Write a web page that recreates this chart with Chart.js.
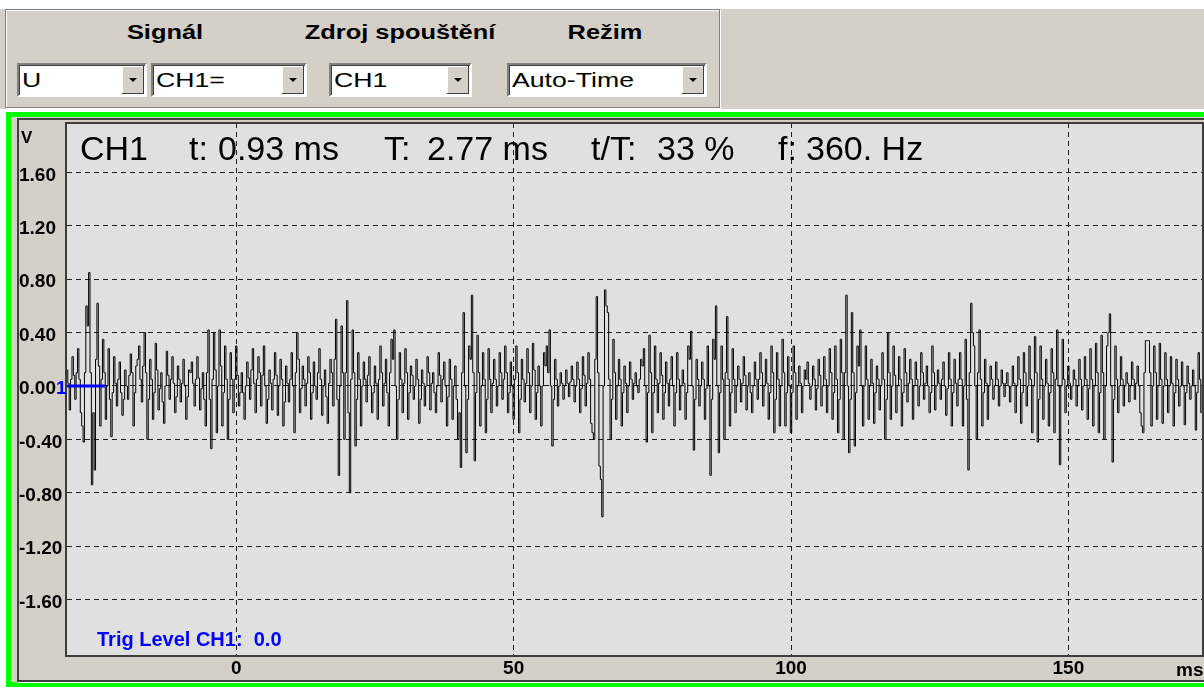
<!DOCTYPE html>
<html>
<head>
<meta charset="utf-8">
<script src="https://cdn.jsdelivr.net/npm/chart.js@4.4.1/dist/chart.umd.min.js"></script>
<style>
  html, body { margin: 0; overflow: hidden; }
  body { width: 1204px; height: 687px; background: #fff; position: relative;
         font-family: "Liberation Sans", Arial, sans-serif; }
  .abs { position: absolute; white-space: pre; }
  #toppanel { left: 0; top: 9px; width: 1204px; height: 100px; background: #d4d0c8; }
  #group { left: 5px; top: 9px; width: 713px; height: 97px; border: 1px solid #808080;
           box-shadow: 1px 1px 0 #fff, inset 1px 1px 0 #fff; }
  .caption { top: 22px; font-weight: bold; font-size: 20px; line-height: 20px; text-align: center; color: #000;
             transform: scaleX(1.27); transform-origin: center; }
  .combo { top: 63px; height: 30px; background: #fff; border-top: 2px solid #808080; border-left: 2px solid #808080;
           border-right: 2px solid #fff; border-bottom: 2px solid #fff; box-shadow: inset 1px 1px 0 #404040; }
  .combo span { position: absolute; left: 3px; top: 4px; font-size: 21px; line-height: 22px; color: #000;
                transform: scaleX(1.27); transform-origin: left; }
  .combo .btn { position: absolute; right: 1px; top: 1px; width: 22px; height: 28px; background: #d4d0c8;
                box-shadow: inset -1px -1px 0 #404040, inset 1px 1px 0 #fff; }
  .combo .btn::after { content: ""; position: absolute; left: 7px; top: 12px; border-left: 4px solid transparent;
                       border-right: 4px solid transparent; border-top: 4px solid #000; }
  #frame { left: 6px; top: 112px; width: 1198px; height: 565px; border-left: 5px solid #00ff00; border-top: 5px solid #00ff00;
           border-bottom: 5px solid #00ff00; background: #d4d0c8; }
  #inner { left: 17px; top: 118px; width: 1185px; height: 560px; border-top: 2px solid #404040; border-left: 2px solid #404040;
           border-bottom: 2px solid #404040; box-shadow: 0 1px 0 #fff; }
  #scope { position: absolute; left: 19px; top: 121px; }
  .header { top: 131px; font-size: 34px; line-height: 34px; color: #000; }
  .lbl { font-weight: bold; font-size: 19px; line-height: 19px; color: #000; }
  .blue { color: #0000ff; }
</style>
</head>
<body>
<div id="toppanel" class="abs"></div>
<div id="group" class="abs"></div>
<div class="abs caption" style="left:110px; width:110px;">Signál</div>
<div class="abs caption" style="left:300px; width:200px;">Zdroj spouštění</div>
<div class="abs caption" style="left:560px; width:90px;">Režim</div>
<div class="abs combo" style="left:17px; width:126px;"><span>U</span><div class="btn"></div></div>
<div class="abs combo" style="left:151px; width:152px;"><span>CH1=</span><div class="btn"></div></div>
<div class="abs combo" style="left:329px; width:139px;"><span>CH1</span><div class="btn"></div></div>
<div class="abs combo" style="left:507px; width:196px;"><span>Auto-Time</span><div class="btn"></div></div>

<div id="frame" class="abs"></div>
<div id="inner" class="abs"></div>
<canvas id="scope" width="1185" height="557"></canvas>

<div class="abs header" style="left:80px;">CH1</div>
<div class="abs header" style="left:189px;">t:</div>
<div class="abs header" style="left:218px;">0.93 ms</div>
<div class="abs header" style="left:384px;">T:</div>
<div class="abs header" style="left:427px;">2.77 ms</div>
<div class="abs header" style="left:591px;">t/T:</div>
<div class="abs header" style="left:657px;">33 %</div>
<div class="abs header" style="left:778px;">f:</div>
<div class="abs header" style="left:806px;">360. Hz</div>

<div class="abs lbl" style="left:21px; top:128px; font-size:17px;">V</div>
<div class="abs lbl blue" style="left:56px; top:378px;">1</div>
<div class="abs lbl" style="left:1176px; top:660px;">ms</div>
<div class="abs lbl blue" style="left:97px; top:629px; font-size:20px; line-height:20px;">Trig Level CH1:  0.0</div>

<script>
// time base of the capture (ms)
const tStart = -30.5
const tStep = 0.25

// CH1 samples in volts (one row = 5 ms)
const signalValues = [
  0.12, 0.02, -0.18, 0.05, 0.22, 0.08, -0.1, 0.1, 0.28, 0.05, -0.2, -0.3, -0.42, 0.1, 0.6, 0.45, 0.85, 0.1, -0.74, -0.2,
  -0.63, 0.2, 0.62, 0.15, -0.3, 0.05, 0.35, 0.1, -0.25, 0.0, 0.28, -0.1, -0.38, -0.05, 0.22, 0.02, -0.15, 0.05, 0.18, -0.05,
  -0.22, -0.1, 0.12, 0.0, -0.1, 0.08, 0.24, 0.1, -0.3, -0.05, 0.15, 0.2, 0.3, 0.05, -0.12, 0.15, 0.4, 0.1, -0.4, -0.1,
  0.2, 0.05, -0.25, -0.05, 0.32, 0.12, -0.18, -0.02, 0.1, -0.12, -0.28, 0.0, 0.26, 0.08, -0.1, 0.05, 0.22, 0.02, -0.2, -0.08,
  0.15, 0.05, -0.12, 0.02, 0.2, 0.0, -0.25, -0.08, 0.12, 0.1, 0.18, 0.02, -0.15, 0.05, 0.22, 0.06, -0.18, -0.02, 0.1, -0.1,
  -0.3, 0.1, 0.42, -0.1, -0.47, 0.05, 0.4, 0.12, -0.35, 0.0, 0.42, 0.15, -0.3, -0.05, 0.3, 0.05, -0.4, -0.1, 0.25, 0.05,
  -0.2, 0.05, 0.3, 0.08, -0.15, -0.05, 0.1, -0.05, -0.25, 0.0, 0.18, 0.06, -0.1, 0.12, 0.28, 0.02, -0.2, 0.05, 0.22, 0.1,
  -0.15, 0.08, 0.3, 0.0, -0.28, -0.1, 0.12, 0.02, -0.18, 0.05, 0.25, 0.08, -0.22, 0.0, 0.2, 0.05, -0.3, -0.12, 0.15, 0.02,
  -0.12, 0.05, 0.25, 0.0, -0.35, 0.1, 0.4, 0.2, -0.2, -0.02, 0.15, 0.05, -0.15, 0.02, 0.22, 0.1, -0.25, -0.05, 0.18, 0.0,
  -0.1, 0.1, 0.28, 0.05, -0.22, 0.0, 0.12, -0.08, -0.28, 0.02, 0.2, 0.1, -0.15, 0.2, 0.5, -0.1, -0.67, 0.0, 0.45, 0.1,
  -0.4, 0.1, 0.64, -0.2, -0.8, 0.05, 0.42, 0.1, -0.45, -0.1, 0.25, 0.05, -0.3, 0.0, 0.18, 0.05, -0.12, 0.08, 0.22, 0.0,
  -0.2, -0.05, 0.15, 0.02, -0.25, 0.05, 0.3, 0.1, -0.15, 0.02, 0.2, -0.05, -0.3, 0.1, 0.35, 0.2, 0.42, 0.0, -0.4, -0.1,
  0.25, 0.05, -0.2, 0.02, 0.28, 0.1, -0.25, -0.05, 0.15, 0.08, -0.1, 0.0, 0.2, 0.05, -0.28, -0.1, 0.12, 0.02, -0.15, 0.0,
  0.22, 0.1, -0.18, 0.02, 0.1, -0.05, -0.2, 0.0, 0.25, 0.08, -0.12, 0.05, 0.18, 0.0, -0.3, -0.08, 0.2, 0.05, -0.25, 0.0,
  0.15, -0.1, -0.4, -0.2, -0.61, 0.1, 0.55, 0.0, -0.5, -0.1, 0.3, 0.2, 0.68, 0.1, -0.56, -0.05, 0.38, 0.1, -0.3, 0.0,
  0.25, 0.05, -0.35, -0.1, 0.28, 0.05, -0.2, 0.02, 0.2, 0.05, -0.15, 0.0, 0.25, 0.1, -0.1, 0.05, 0.3, 0.1, -0.2, -0.05,
  0.18, 0.0, -0.25, 0.05, 0.3, 0.1, -0.35, -0.1, 0.2, 0.05, -0.12, 0.02, 0.28, 0.1, -0.2, 0.0, 0.32, 0.12, -0.25, -0.05,
  0.15, 0.0, -0.3, 0.0, 0.25, 0.15, 0.3, 0.1, 0.42, 0.0, -0.45, -0.1, 0.2, 0.05, -0.15, 0.0, 0.1, 0.02, -0.1, 0.0,
  0.12, 0.02, -0.08, 0.03, 0.15, 0.05, -0.12, 0.0, 0.18, 0.05, -0.2, -0.02, 0.22, 0.08, -0.15, 0.02, 0.25, 0.05, -0.28, -0.35,
  -0.4, 0.2, 0.67, 0.1, -0.6, -0.7, -0.98, 0.0, 0.72, 0.6, 0.55, 0.05, -0.4, -0.1, 0.35, 0.1, -0.25, 0.0, 0.2, 0.05,
  -0.3, -0.05, 0.15, 0.02, -0.2, 0.0, 0.18, 0.05, -0.1, 0.02, 0.1, 0.0, -0.05, 0.05, 0.2, 0.15, 0.28, 0.0, -0.42, -0.05,
  0.38, 0.1, -0.35, -0.05, 0.3, 0.05, -0.2, 0.02, 0.25, 0.08, -0.25, -0.05, 0.18, 0.02, -0.15, 0.05, 0.22, 0.0, -0.3, -0.05,
  0.25, 0.05, -0.18, 0.0, 0.12, 0.02, -0.25, -0.05, 0.3, 0.2, 0.41, 0.0, -0.48, -0.1, 0.2, 0.05, -0.15, 0.0, 0.18, 0.05,
  -0.25, -0.02, 0.3, 0.0, -0.67, -0.1, 0.35, 0.2, 0.6, 0.0, -0.5, -0.05, 0.3, 0.05, -0.4, 0.1, 0.52, 0.05, -0.3, -0.05,
  0.28, 0.05, -0.2, 0.0, 0.15, 0.05, -0.12, 0.02, 0.22, 0.08, -0.18, 0.0, 0.1, -0.05, -0.2, 0.0, 0.18, 0.05, -0.1, 0.05,
  0.25, 0.1, -0.15, 0.0, 0.2, 0.02, -0.25, -0.05, 0.3, 0.1, -0.35, -0.1, 0.25, 0.05, -0.3, 0.0, 0.35, 0.1, -0.3, -0.05,
  0.22, 0.0, -0.35, -0.05, 0.3, 0.1, -0.25, 0.0, 0.15, 0.02, -0.2, 0.0, 0.12, 0.05, 0.18, 0.02, -0.1, 0.0, 0.15, 0.05,
  -0.18, -0.02, 0.2, 0.08, -0.15, 0.0, 0.22, 0.05, -0.2, 0.0, 0.28, 0.1, -0.25, -0.05, 0.3, 0.05, -0.35, -0.1, 0.35, 0.1,
  -0.4, 0.1, 0.68, 0.0, -0.5, -0.1, 0.55, 0.1, -0.45, -0.05, 0.3, 0.15, 0.42, 0.0, -0.3, 0.0, 0.3, 0.05, -0.25, 0.0,
  0.2, 0.02, -0.28, -0.05, 0.15, 0.05, -0.18, 0.0, 0.25, 0.05, -0.4, -0.1, 0.4, 0.1, -0.25, 0.0, 0.3, 0.08, -0.2, 0.0,
  0.22, 0.05, -0.3, -0.05, 0.28, 0.1, -0.12, 0.02, 0.2, 0.05, -0.25, 0.0, 0.18, 0.05, -0.15, 0.0, 0.25, 0.1, -0.1, 0.02,
  0.15, 0.0, -0.2, -0.05, 0.3, 0.1, -0.18, 0.0, 0.12, 0.02, -0.1, 0.05, 0.18, 0.0, -0.22, -0.02, 0.25, 0.05, -0.3, -0.05,
  0.2, 0.02, -0.15, 0.05, 0.25, 0.05, -0.3, 0.0, 0.35, -0.1, -0.63, 0.1, 0.62, 0.4, 0.3, 0.0, -0.4, 0.1, 0.42, 0.05,
  -0.3, -0.05, 0.2, 0.02, -0.25, 0.0, 0.15, 0.05, -0.1, 0.0, 0.18, 0.05, -0.15, 0.0, 0.12, 0.02, -0.08, 0.02, 0.1, 0.0,
  -0.12, 0.0, 0.15, 0.02, -0.2, 0.0, 0.22, 0.05, -0.28, -0.05, 0.25, 0.1, -0.15, 0.0, 0.3, 0.05, -0.35, 0.0, 0.37, 0.1,
  -0.42, -0.1, 0.3, 0.05, -0.25, 0.0, 0.2, 0.02, -0.3, -0.05, 0.28, 0.1, -0.35, 0.05, 0.42, 0.0, -0.59, 0.0, 0.35, 0.05,
  -0.2, 0.0, 0.15, 0.02, -0.1, 0.0, 0.12, 0.05, -0.15, 0.0, 0.2, 0.05, -0.18, 0.0, 0.22, 0.05, -0.25, -0.02, 0.28, 0.05,
  -0.3, 0.0, 0.32, 0.1, -0.35, -0.05, 0.38, 0.1, -0.4, 0.0, 0.3, 0.4, 0.54, 0.0, -0.57, -0.1, 0.3, 0.05, -0.2, 0.0,
  0.22, 0.05, -0.15, 0.0, 0.1, 0.02, -0.12, 0.0, 0.18, 0.05, -0.1, 0.02, 0.15, 0.0, -0.2, -0.3, -0.35, 0.1, 0.34, 0.34,
  0.34, 0.1, -0.3, 0.0, 0.3, 0.1, -0.25, 0.0, 0.32, 0.05, -0.28, 0.0, 0.25, 0.05, -0.2, 0.0, 0.22, 0.02, -0.3, -0.05,
  0.2, 0.05, -0.15, 0.0, 0.18, 0.0, -0.29, -0.05, 0.15, 0.02, -0.1, 0.0, 0.12, 0.0, -0.33, -0.05, 0.25, 0.05, -0.2, 0.0,
  0.1
]

// trigger level marker for CH1 (V) and where it ends on the time axis (ms)
const trigLevel = 0.0
const trigMarkEnd = -23.7

const xTicks = [0, 50, 100, 150]
const yTicks = [-1.6, -1.2, -0.8, -0.4, 0, 0.4, 0.8, 1.2, 1.6]

// visible window of the scope screen
const xMin = -30.52
const xMax = 174.27
const yMin = -2.015
const yMax = 1.97

const signalPoints = signalValues.map((v, i) => ({ x: tStart + i * tStep, y: v }));
const trigPoints = [{ x: xMin, y: trigLevel }, { x: trigMarkEnd, y: trigLevel }];

const gridColor = '#1e1e1e'
const paperColor = '#e0e0e0'
const frameColor = '#3c3c3c'

// light gray screen plus dark frame around the plot area
const screenFrame = {
  id: 'screenFrame',
  beforeDraw(chart) {
    const a = chart.chartArea;
    const c = chart.ctx;
    c.save();
    c.fillStyle = paperColor;
    c.fillRect(a.left, a.top, a.right - a.left, a.bottom - a.top);
    c.restore();
  },
  afterDraw(chart) {
    const a = chart.chartArea;
    const c = chart.ctx;
    c.save();
    c.strokeStyle = frameColor;
    c.lineWidth = 2;
    c.strokeRect(a.left - 1, a.top, a.right - a.left + 1, a.bottom - a.top + 1);
    c.restore();
  }
};

// no extra room for half labels, the scope screen runs edge to edge
function noLabelPadding(s) {
  s.paddingTop = 0;
  s.paddingBottom = 0;
  s.paddingLeft = 0;
  s.paddingRight = 0;
}

Chart.defaults.font.family = '"Liberation Sans", Arial, sans-serif';
Chart.defaults.color = '#000';

const ctx = document.getElementById('scope');

const scopeChart = new Chart(ctx, {
  type: 'line',
  data: {
    datasets: [{
      label: 'Trig CH1',
      data: trigPoints,
      borderColor: '#0000ff',
      borderWidth: 3,
      pointRadius: 0,
      order: 0
    }, {
      label: 'CH1',
      data: signalPoints,
      borderColor: '#000',
      borderWidth: 1,
      pointRadius: 0,
      stepped: 'middle',
      order: 1
    }]
  },
  options: {
    responsive: false,
    animation: false,
    events: [],
    layout: { padding: { top: 2, right: 1, left: 0, bottom: 0 } },
    plugins: { legend: { display: false }, tooltip: { enabled: false } },
    scales: {
      x: {
        type: 'linear',
        min: xMin,
        max: xMax,
        afterBuildTicks: s => { s.ticks = xTicks.map(v => ({ value: v })) },
        afterFit: s => { s.height = 23; noLabelPadding(s) },
        grid: { color: gridColor, lineWidth: 1, drawTicks: false },
        border: { display: false, dash: [5, 4] },
        ticks: {
          font: { size: 19, weight: 'bold' },
          padding: 2,
          maxRotation: 0,
          callback: v => String(v)
        }
      },
      y: {
        type: 'linear',
        min: yMin,
        max: yMax,
        afterBuildTicks: s => { s.ticks = yTicks.map(v => ({ value: v })) },
        afterFit: s => { s.width = 48; noLabelPadding(s) },
        grid: { color: gridColor, lineWidth: 1, drawTicks: false },
        border: { display: false, dash: [5, 4] },
        ticks: {
          font: { size: 19, weight: 'bold' },
          crossAlign: 'far',
          labelOffset: 3,
          callback: v => v.toFixed(2)
        }
      }
    }
  },
  plugins: [screenFrame]
});
</script>
</body>
</html>
